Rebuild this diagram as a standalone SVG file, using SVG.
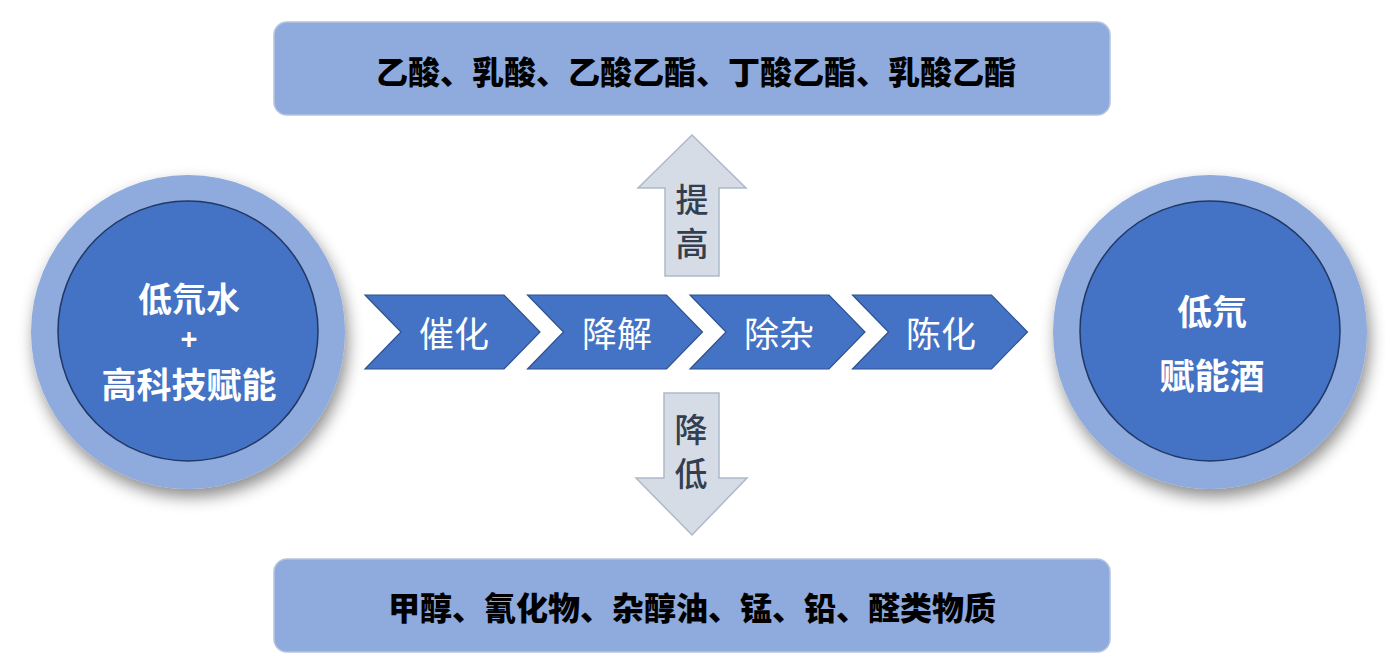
<svg xmlns="http://www.w3.org/2000/svg" width="1385" height="670" viewBox="0 0 1385 670">
<style>
.box{fill:#8FAADC;stroke:#B4C3DE;stroke-width:1.5}
.outer{fill:#8FAADC}
.inner{fill:#4472C4;stroke:#203864;stroke-width:1.5}
.chev{fill:#4472C4;stroke:#2F528F;stroke-width:1.2}
.arr{fill:#D6DCE5;stroke:#ADB9CA;stroke-width:1.5}
.ct{font-family:"Noto Sans CJK SC","Noto Sans",sans-serif;font-weight:700;fill:#FFFFFF;text-anchor:middle;dominant-baseline:central}
.plus{font-family:"Liberation Sans",Arial,sans-serif;font-weight:700;fill:#FFFFFF;text-anchor:middle;dominant-baseline:central;font-size:29px}
.cht{font-family:"Noto Sans CJK SC","Noto Sans",sans-serif;font-weight:400;fill:#FFFFFF;text-anchor:middle;dominant-baseline:central;font-size:35px}
.at{font-family:"Noto Sans CJK SC","Noto Sans",sans-serif;font-weight:500;fill:#333F50;text-anchor:middle;dominant-baseline:central;font-size:33px}
.bt{font-family:"Noto Sans CJK SC","Noto Sans",sans-serif;font-weight:900;fill:#000000;text-anchor:middle;dominant-baseline:central}
</style>
<defs>
<filter id="sh" x="-30%" y="-30%" width="160%" height="160%">
<feDropShadow dx="3" dy="8" stdDeviation="8" flood-color="#000" flood-opacity="0.45"/>
</filter>
</defs>
<rect width="1385" height="670" fill="#FFFFFF"/>
<g id="top-box">
<rect class="box" x="274" y="22" width="836" height="93" rx="13"/>
<text class="bt" x="696" y="70" font-size="32">乙酸、乳酸、乙酸乙酯、丁酸乙酯、乳酸乙酯</text>
</g>
<g id="bottom-box">
<rect class="box" x="274" y="559" width="836" height="93" rx="13"/>
<text class="bt" x="692" y="606" font-size="32">甲醇、氰化物、杂醇油、锰、铅、醛类物质</text>
</g>
<g id="left-circle">
<circle class="outer" cx="188" cy="332" r="157" filter="url(#sh)"/>
<circle class="inner" cx="188" cy="331" r="130"/>
<text class="ct" x="189" y="297" font-size="34">低氘水</text>
<text class="plus" x="189" y="339">+</text>
<text class="ct" x="189" y="382" font-size="35">高科技赋能</text>
</g>
<g id="right-circle">
<circle class="outer" cx="1210" cy="332" r="157" filter="url(#sh)"/>
<circle class="inner" cx="1210" cy="331" r="130"/>
<text class="ct" x="1212" y="309" font-size="35">低氘</text>
<text class="ct" x="1212" y="373" font-size="35">赋能酒</text>
</g>
<g id="connectors">
<g id="step-1">
<path class="chev" d="M365,295 H504 L540,332 L504,369 H365 L401,332 Z"/>
<text class="cht" x="454" y="331">催化</text>
</g>
<g id="step-2">
<path class="chev" d="M527.5,295 H666.5 L702.5,332 L666.5,369 H527.5 L563.5,332 Z"/>
<text class="cht" x="617" y="331">降解</text>
</g>
<g id="step-3">
<path class="chev" d="M690,295 H829 L865,332 L829,369 H690 L726,332 Z"/>
<text class="cht" x="779" y="331">除杂</text>
</g>
<g id="step-4">
<path class="chev" d="M852.5,295 H991.5 L1027.5,332 L991.5,369 H852.5 L888.5,332 Z"/>
<text class="cht" x="941" y="331">陈化</text>
</g>
<g id="arrow-up">
<path class="arr" d="M692,135 L746,188 H719 V276 H665 V188 H638 Z"/>
<text class="at" x="692" y="198">提</text>
<text class="at" x="692" y="242">高</text>
</g>
<g id="arrow-down">
<path class="arr" d="M664,393 H719 V478 H747 L692,535 L636,478 H664 Z"/>
<text class="at" x="691" y="428">降</text>
<text class="at" x="691" y="472">低</text>
</g>
</g>
</svg>
